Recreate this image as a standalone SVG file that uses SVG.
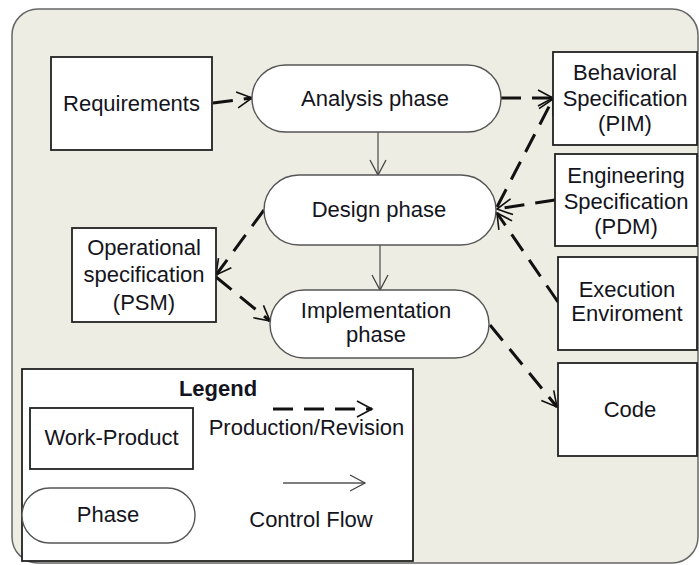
<svg xmlns="http://www.w3.org/2000/svg" width="699" height="565" viewBox="0 0 699 565">
<defs>
<style>
text{font-family:"Liberation Sans",Arial,sans-serif;font-size:22px;fill:#141420;text-anchor:middle}
.box{fill:#fff;stroke:#222;stroke-width:1.8}
.pill{fill:#fff;stroke:#555;stroke-width:1.4}
.prod{fill:none;stroke:#111;stroke-width:3;stroke-dasharray:20 11}
.ctrl{fill:none;stroke:#555;stroke-width:1.3}
</style>
<marker id="ah" viewBox="-16 -9 18 18" refX="0" refY="0" markerWidth="18" markerHeight="18" markerUnits="userSpaceOnUse" orient="auto">
<path d="M-15,-8 L0,0 L-15,8" fill="none" stroke="#111" stroke-width="1.6"/>
</marker>
<marker id="ac" viewBox="-16 -9 18 18" refX="0" refY="0" markerWidth="18" markerHeight="18" markerUnits="userSpaceOnUse" orient="auto">
<path d="M-15,-8 L0,0 L-15,8" fill="none" stroke="#444" stroke-width="1.3"/>
</marker>
</defs>
<rect x="12" y="9" width="686" height="554" rx="26" fill="#ededE3" stroke="#666" stroke-width="1.5"/>

<g id="connectors">
<path class="prod" d="M213,103 L252,98" marker-end="url(#ah)"/>
<path class="prod" d="M501,98 L553,98" marker-end="url(#ah)"/>
<path class="prod" d="M497,207 L553,99" marker-end="url(#ah)"/>
<path class="prod" d="M555,200 L497,209" marker-end="url(#ah)"/>
<path class="prod" d="M558,302 L497,213" marker-end="url(#ah)"/>
<path class="prod" d="M264,210 L216,275" marker-end="url(#ah)"/>
<path class="prod" d="M216,277 L270,321" marker-end="url(#ah)"/>
<path class="prod" d="M490,325 L557,407" marker-end="url(#ah)"/>
<path class="ctrl" d="M378,132 L378,175" marker-end="url(#ac)"/>
<path class="ctrl" d="M380,245 L380,290" marker-end="url(#ac)"/>
</g>

<g id="requirements">
<rect class="box" x="51" y="57" width="161" height="93"/>
<text x="131.5" y="111">Requirements</text>
</g>
<g id="analysis">
<rect class="pill" x="252" y="65" width="249" height="67" rx="33.5"/>
<text x="375" y="106">Analysis phase</text>
</g>
<g id="design">
<rect class="pill" x="264" y="175" width="232" height="70" rx="35"/>
<text x="379" y="217">Design phase</text>
</g>
<g id="implementation">
<rect class="pill" x="270" y="290" width="219" height="68" rx="34"/>
<text x="376" y="318">Implementation</text>
<text x="376" y="342">phase</text>
</g>
<g id="behavioral">
<rect class="box" x="553" y="52" width="144" height="93"/>
<text x="625" y="80">Behavioral</text>
<text x="625" y="106">Specification</text>
<text x="625" y="131">(PIM)</text>
</g>
<g id="engineering">
<rect class="box" x="555" y="154" width="142" height="92"/>
<text x="626" y="183">Engineering</text>
<text x="626" y="209">Specification</text>
<text x="626" y="234">(PDM)</text>
</g>
<g id="execution">
<rect class="box" x="558" y="257" width="139" height="93"/>
<text x="627" y="297">Execution</text>
<text x="627" y="321">Enviroment</text>
</g>
<g id="code">
<rect class="box" x="558" y="363" width="139" height="93"/>
<text x="630" y="417">Code</text>
</g>
<g id="operational">
<rect class="box" x="72" y="228" width="144" height="94"/>
<text x="144" y="255">Operational</text>
<text x="144" y="282">specification</text>
<text x="144" y="310">(PSM)</text>
</g>

<g id="legend">
<rect x="22" y="369" width="391" height="192" fill="#fff" stroke="#222" stroke-width="1.8"/>
<text x="218" y="396" style="font-weight:bold">Legend</text>
<rect class="box" x="30" y="408" width="163" height="61"/>
<text x="111.5" y="445">Work-Product</text>
<rect class="pill" x="22" y="488" width="173" height="55" rx="27.5"/>
<text x="108" y="522">Phase</text>
<path class="prod" d="M273,409 L372,409" marker-end="url(#ah)"/>
<text x="306.5" y="435">Production/Revision</text>
<path class="ctrl" d="M283,483 L365,483" marker-end="url(#ac)"/>
<text x="311" y="527">Control Flow</text>
</g>
</svg>
